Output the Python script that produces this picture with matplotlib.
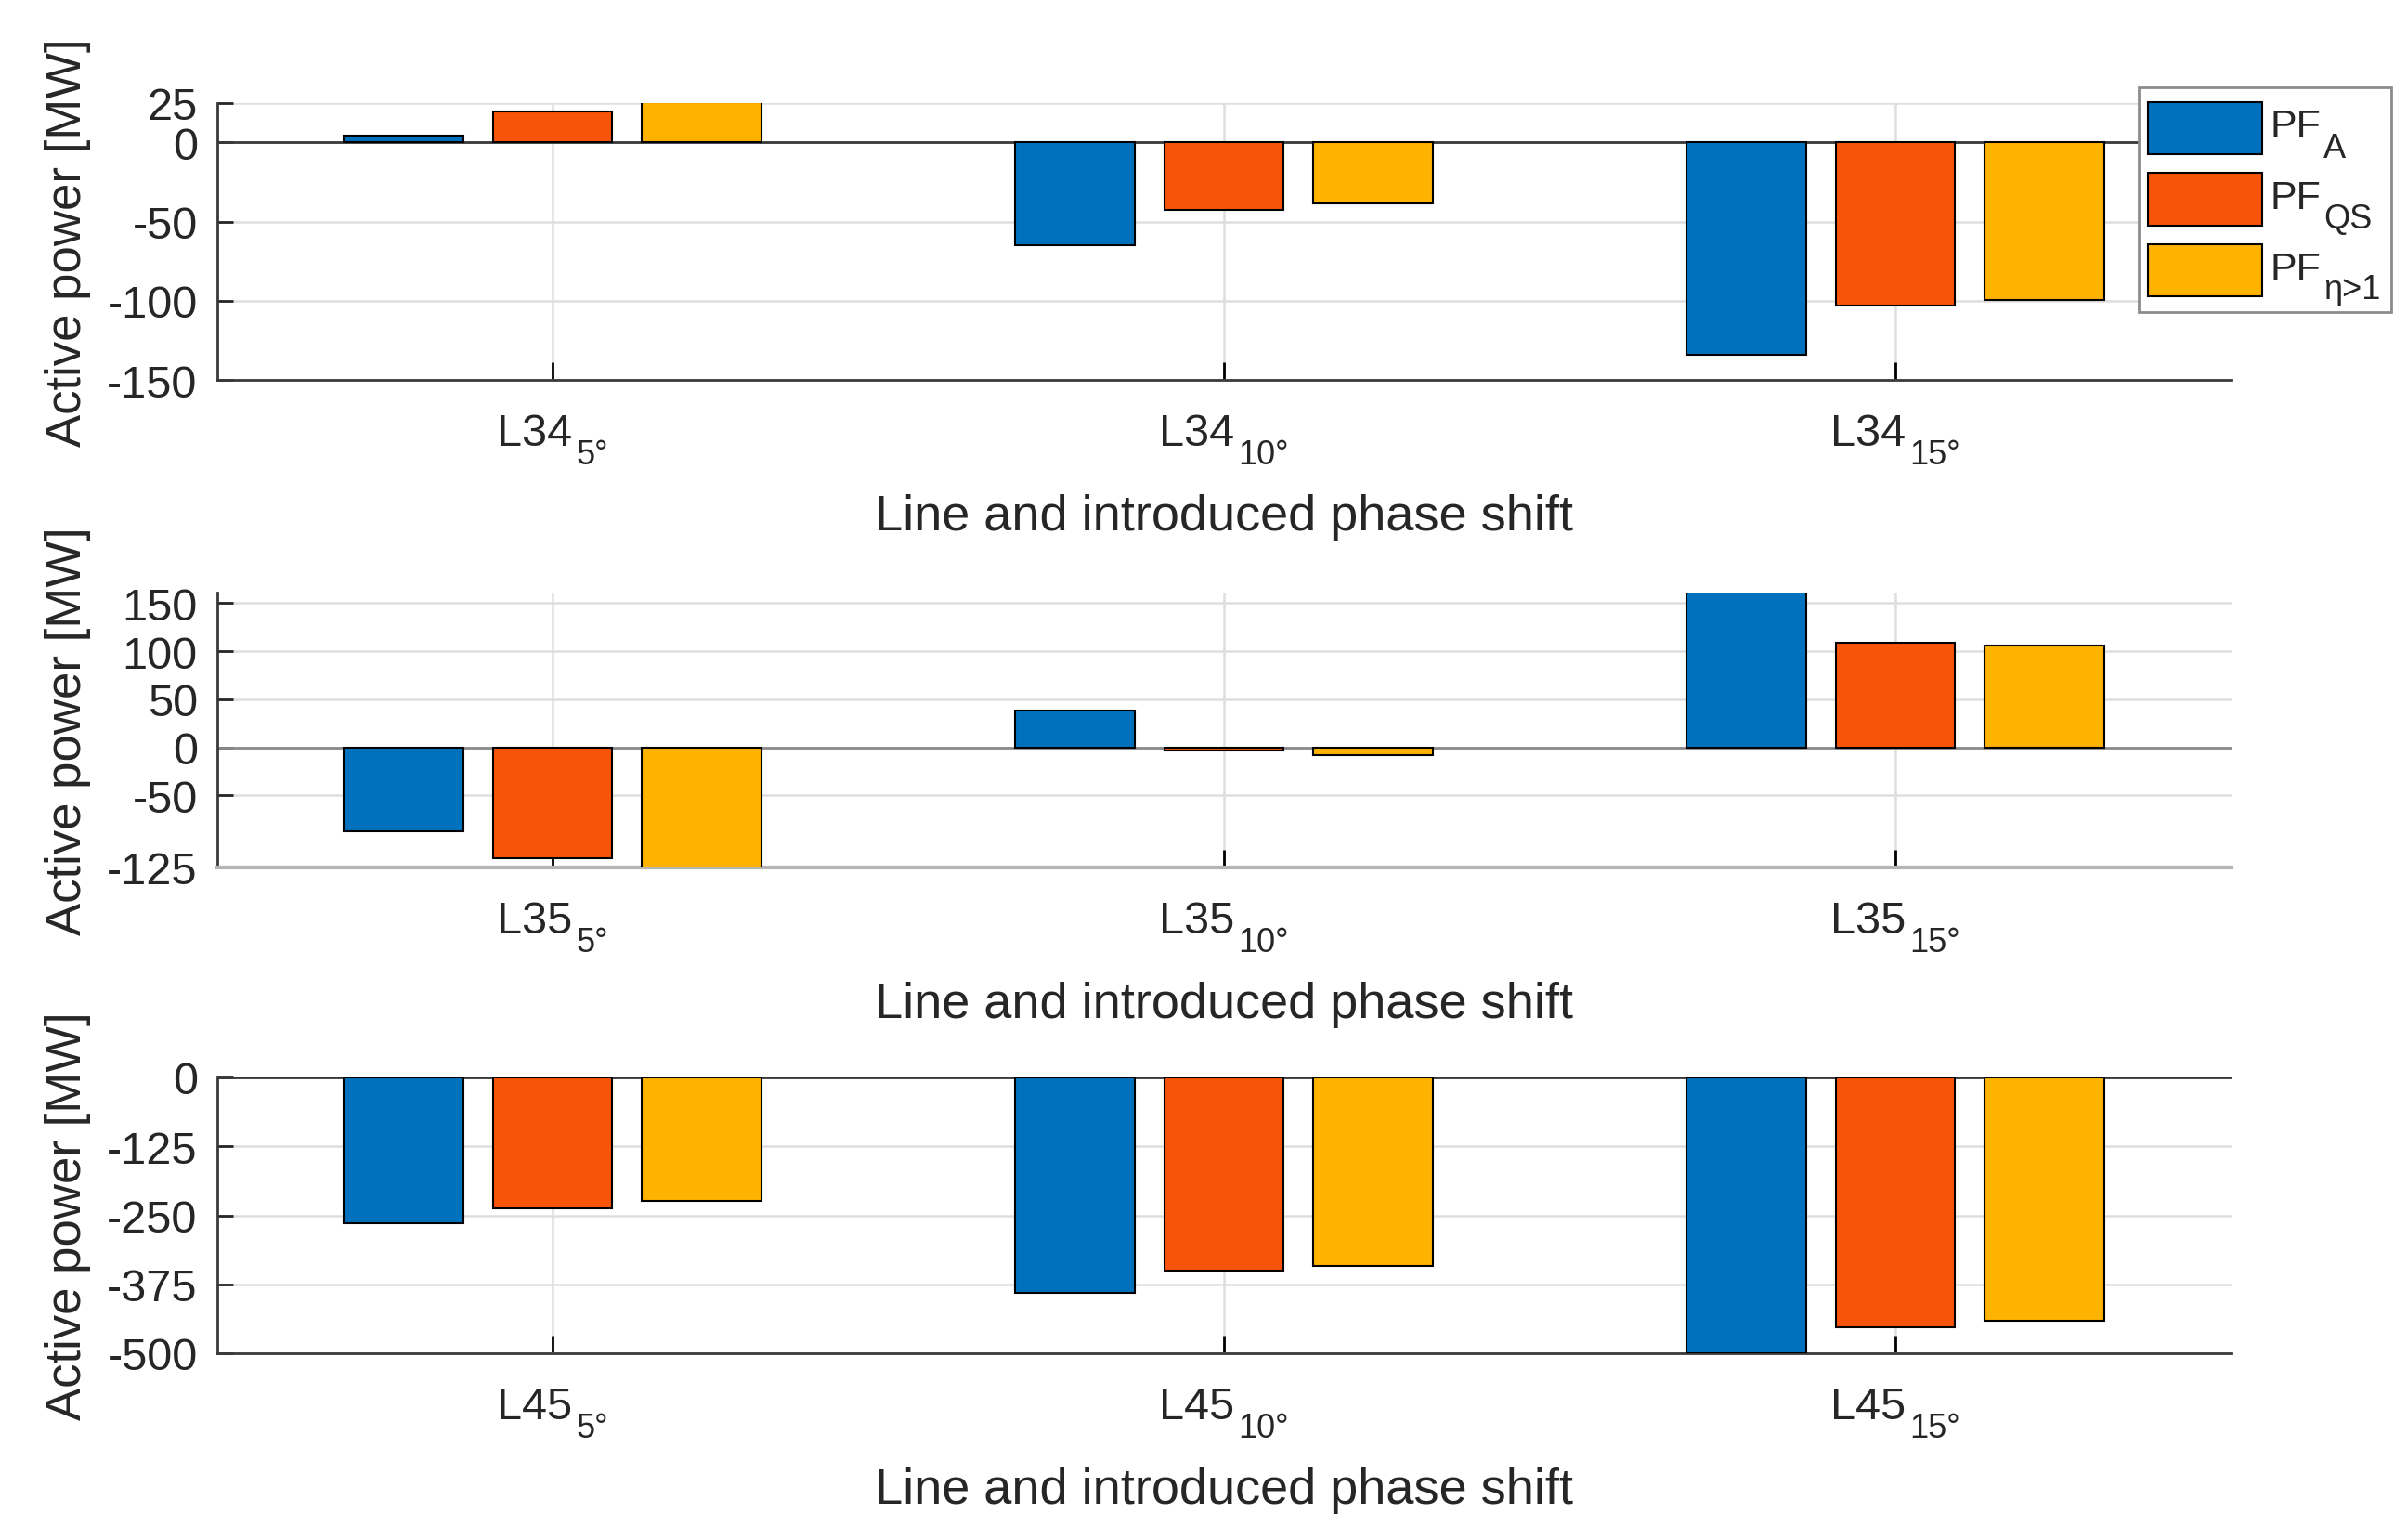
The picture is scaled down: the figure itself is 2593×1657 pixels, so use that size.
import numpy as np
import matplotlib
matplotlib.use('Agg')
import matplotlib.pyplot as plt
from matplotlib.patches import Rectangle

plt.rcParams['font.family'] = ['Liberation Sans', 'DejaVu Sans']
plt.rcParams['axes.unicode_minus'] = False

# data (MW)
angles = ['5°', '10°', '15°']
series_main = ['PF', 'PF', 'PF']
series_sub = ['A', 'QS', 'η>1']

L34_pf_a = [4.3, -65.2, -134.2]
L34_pf_qs = [19.8, -42.6, -103.2]
L34_pf_eta = [25.7, -38.7, -99.7]

L35_pf_a = [-87.7, 38.7, 162.9]
L35_pf_qs = [-115.6, -2.8, 109.2]
L35_pf_eta = [-127.0, -8.0, 106.0]

L45_pf_a = [-264.6, -390.2, -500.5]
L45_pf_qs = [-237.2, -349.7, -452.4]
L45_pf_eta = [-224.7, -341.3, -440.5]

L34_ticks = [-150, -100, -50, 0, 25]
L35_ticks = [-125, -50, 0, 50, 100, 150]
L45_ticks = [-500, -375, -250, -125, 0]

colors = ['#0072BD', '#F85409', '#FFB200']
txt = '#262626'

W, H = 2593, 1658
fig = plt.figure(figsize=(W / 100, H / 100), dpi=100)

left = 233.5 / W
width = 2169 / W
panels = [
    ('L34', [L34_pf_a, L34_pf_qs, L34_pf_eta], L34_ticks, (-150, 25), (111.7, 410)),
    ('L35', [L35_pf_a, L35_pf_qs, L35_pf_eta], L35_ticks, (-125, 161), (639, 935)),
    ('L45', [L45_pf_a, L45_pf_qs, L45_pf_eta], L45_ticks, (-500, 0), (1161, 1458)),
]

x = np.arange(1, len(angles) + 1)
offset = 0.2222
bw = 0.178

pairs = []  # (main text, sub text) for the category labels
for name, vals, yt, ylim, (ytop, ybot) in panels:
    h = (ybot - ytop) / H
    ax = fig.add_axes([left, 1 - ybot / H, width, h])
    for i, v in enumerate(vals):
        ax.bar(x + (i - 1) * offset, v, bw, color=colors[i], edgecolor='black',
               linewidth=1.5, zorder=3)
    ax.axhline(0, color='#3a3a3a' if name != 'L35' else '#8a8a8a', linewidth=2, zorder=2)
    ax.set_xlim(0.5, 3.5)
    ax.set_ylim(*ylim)
    ax.set_yticks(yt)
    ax.set_xticks(x)
    ax.grid(True, color='#dedede', linewidth=1.8, zorder=0)
    ax.set_axisbelow(True)
    for s in ['top', 'right']:
        ax.spines[s].set_visible(False)
    ax.spines['left'].set_color('#3a3a3a')
    ax.spines['bottom'].set_color('#b5b5b5' if name == 'L35' else '#3a3a3a')
    ax.spines['left'].set_linewidth(2)
    ax.spines['bottom'].set_linewidth(3 if name == 'L35' else 2)
    ax.tick_params(axis='y', direction='in', length=12, width=2, pad=15,
                   labelsize=35, colors=txt)
    ax.tick_params(axis='x', direction='in', length=14, width=2, labelbottom=False)
    ax.set_ylabel('Active power [MW]', fontsize=38, color=txt)
    ax.yaxis.set_label_coords(-0.0625, 0.5)
    ax.set_xlabel('Line and introduced phase shift', fontsize=39, color=txt)
    ax.xaxis.set_label_coords(0.5, -122 / (ybot - ytop))

    # category labels with a lowered subscript, as in the MATLAB original
    for xi, a in zip(x, angles):
        t1 = ax.annotate(name, xy=(xi, 0), xycoords=ax.get_xaxis_transform(),
                         xytext=(0, -70), textcoords='offset pixels',
                         ha='left', va='baseline', fontsize=35, color=txt)
        t2 = ax.annotate(a, xy=(xi, 0), xycoords=ax.get_xaxis_transform(),
                         xytext=(0, -90), textcoords='offset pixels',
                         ha='left', va='baseline', fontsize=26, color=txt)
        pairs.append((t1, t2))

# legend drawn by hand so the subscripts sit low like the original
fig.patches.append(Rectangle((2302.7 / W, 1 - 336.7 / H), 272.3 / W, 241.7 / H,
                             transform=fig.transFigure, facecolor='white',
                             edgecolor='#8c8c8c', linewidth=2, zorder=5))
for i, c in enumerate(colors):
    cy = 139 + 76.5 * i
    fig.patches.append(Rectangle((2313 / W, 1 - (cy + 28) / H), 123 / W, 56 / H,
                                 transform=fig.transFigure, facecolor=c,
                                 edgecolor='black', linewidth=1.5, zorder=6))
    fig.text(2445 / W, 1 - (cy + 9.5) / H, series_main[i], fontsize=31,
             color=txt, va='baseline', ha='left', zorder=7)
    fig.text(2502 / W, 1 - (cy + 30.5) / H, series_sub[i], fontsize=26,
             color=txt, va='baseline', ha='left', zorder=7)

fig.canvas.draw()
r = fig.canvas.get_renderer()
for t1, t2 in pairs:
    w1 = t1.get_window_extent(r).width
    w2 = t2.get_window_extent(r).width
    start = -(w1 + 4 + w2) / 2
    t1.xyann = (start, -70)
    t2.xyann = (start + w1 + 4, -90)

fig.savefig('out.png', dpi=100)
